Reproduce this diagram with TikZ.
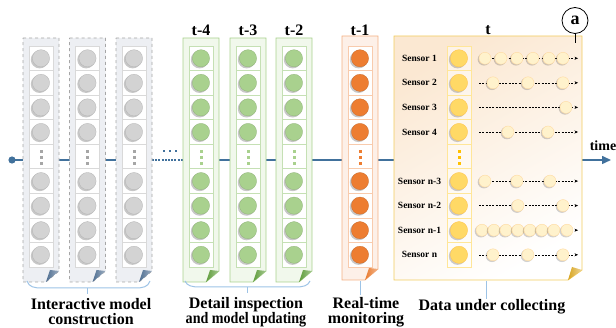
\documentclass[tikz,border=0pt]{standalone}
\usepackage{fontspec}
\setmainfont{Liberation Serif}
\usetikzlibrary{arrows.meta}
\definecolor{tlc}{HTML}{41719C}
\definecolor{gbord}{HTML}{A6A6A6}
\definecolor{gfill}{HTML}{EDEFF3}
\definecolor{gcell}{HTML}{D9D9D9}
\definecolor{gcirc}{HTML}{D3D3D3}
\definecolor{gdot}{HTML}{A6A6A6}
\definecolor{gfold}{HTML}{4F6E91}
\definecolor{gnbord}{HTML}{A9D18E}
\definecolor{gnfill}{HTML}{F1F8EC}
\definecolor{gncell}{HTML}{C5E0B4}
\definecolor{gncirc}{HTML}{A9D18E}
\definecolor{gndot}{HTML}{A9D18E}
\definecolor{gnfold}{HTML}{5E9C3A}
\definecolor{obord}{HTML}{F4B183}
\definecolor{ofill}{HTML}{FDF0E8}
\definecolor{ocell}{HTML}{F8CBAD}
\definecolor{ocirc}{HTML}{ED7D31}
\definecolor{odot}{HTML}{ED7D31}
\definecolor{ofold}{HTML}{E97A2E}
\definecolor{ybord}{HTML}{F2CC5E}
\definecolor{yfill}{HTML}{FBE8D2}
\definecolor{ycell}{HTML}{FFE699}
\definecolor{ycirc}{HTML}{FFD966}
\definecolor{yfold}{HTML}{D9A520}
\definecolor{ysmall}{HTML}{FFF2CC}
\definecolor{ydot}{HTML}{FFC000}
\definecolor{brc}{HTML}{9DC3E6}
\newcommand\mkcolumn[5]{%
  \filldraw[draw=#4bord, fill=#4fill, line width=0.8, #5]
    (#1,#2) -- (#1+36,#2) -- (#1+36,#3-11) -- (#1+23,#3) -- (#1,#3) -- cycle;
  \shade[left color=#4fold, right color=#4fold!55!white]
    (#1+23,#3) -- (#1+36,#3-11) -- (#1+27,#3-12) -- cycle;
  \foreach \i in {0,...,8} {
    \draw[draw=#4cell, fill=white, line width=0.6]
      (#1+6,46+\i*24.56) rectangle (#1+30,46+\i*24.56+24.56);
  }
  \foreach \i in {0,1,2,3,5,6,7,8} {
    \fill[black, opacity=0.22] (#1+16.6,46+\i*24.56+13.6) circle (8.8);
    \filldraw[fill=#4circ, draw=#4circ!85!black, line width=0.3]
      (#1+18,46+\i*24.56+12.28) circle (8.6);
  }
  \foreach \d in {-5,1,7} {
    \fill[#4dot] (#1+16.5,156.5+\d-1.5) rectangle (#1+19.5,156.5+\d+1.5);
  }
}
\begin{document}
\begin{tikzpicture}[x=1pt,y=-1pt,
  tl/.style={draw=tlc, line width=1.5},
  lab/.style={font=\bfseries\fontsize{16}{15}\selectfont, align=center, inner sep=0},
  tlab/.style={font=\bfseries\fontsize{16}{16}\selectfont, inner sep=0},
  slab/.style={font=\bfseries\fontsize{9.5}{10}\selectfont, inner sep=0},
  brace/.style={draw=brc, line width=1},
  dline/.style={draw=black, line width=0.5, dash pattern=on 2pt off 1.3pt,
    -{Stealth[length=3.5pt,width=3pt]}},
  smallc/.style={fill=ysmall, draw=ysmall!80!orange, line width=0.4}]
\useasboundingbox (0,0) rectangle (616,328);

% timeline
\coordinate (tstart) at (12,160);
\coordinate (dotA) at (152,160);
\coordinate (dotB) at (183,160);
\coordinate (tend) at (611,160);
\draw[tl] (tstart) -- (dotA);
\draw[tl, dash pattern=on 2pt off 1.2pt] (dotA) -- (dotB);
\draw[tl, -{Triangle[length=9pt,width=8pt]}] (dotB) -- (tend);
\fill[tlc] (tstart) circle (3.6);
\foreach \x in {164,170,176} \fill[tlc] (\x-1.4,149.6) rectangle (\x+1.4,152.4);
\node[font=\bfseries\fontsize{14}{14}\selectfont, inner sep=0] (timelab) at (603,146) {time};

% gray columns
\mkcolumn{23}{38}{282}{g}{dashed}
\mkcolumn{69.5}{38}{282}{g}{dashed}
\mkcolumn{116}{38}{282}{g}{dashed}
% green columns
\mkcolumn{183}{38}{282}{gn}{solid}
\mkcolumn{230}{38}{282}{gn}{solid}
\mkcolumn{276}{38}{282}{gn}{solid}
% orange column
\mkcolumn{342}{36}{280}{o}{solid}

% labels above
\node[tlab] (l4) at (201,30) {t-4};
\node[tlab] (l3) at (248,30) {t-3};
\node[tlab] (l2) at (294,30) {t-2};
\node[tlab] (l1) at (360,30) {t-1};
\node[tlab] (l0) at (488,30) {t};

% yellow panel
\shade[top color=yfill, bottom color=white, shading angle=30]
  (394,36) -- (582,36) -- (582,270) -- (568,280) -- (394,280) -- cycle;
\draw[draw=ybord, line width=0.9]
  (394,36) -- (582,36) -- (582,270) -- (568,280) -- (394,280) -- cycle;
\shade[left color=yfold, right color=yfold!45!white]
  (568,280) -- (582,270) -- (572,267) -- cycle;
\foreach \i in {0,...,8} {
  \draw[draw=ycell, fill=white, fill opacity=0.5, line width=0.6]
    (447,46+\i*24.56) rectangle (471,46+\i*24.56+24.56);
}
\foreach \i in {0,1,2,3,5,6,7,8} {
  \fill[black, opacity=0.2] (457.6,46+\i*24.56+13.6) circle (8.8);
  \filldraw[fill=ycirc, draw=ycirc!80!orange, line width=0.4]
    (459,46+\i*24.56+12.28) circle (8.6);
}
\foreach \d in {-5,1,7} {
  \fill[ydot] (457.5,156.5+\d-1.5) rectangle (460.5,156.5+\d+1.5);
}

% sensor rows
\foreach \yy/\lab/\xs [count=\k] in {
  58.3/Sensor 1/{485,501,517,533,549,563},
  82.8/Sensor 2/{493,528,563},
  107.4/Sensor 3/{566},
  132.0/Sensor 4/{508,548},
  181.1/Sensor n-3/{485,517,550},
  205.6/Sensor n-2/{518,563},
  230.2/Sensor n-1/{482,494,506,518,530,542,554,567},
  254.8/Sensor n/{493,528,563}} {
  \node[slab] (s\k) at (419.5,\yy) {\lab};
  \coordinate (ra\k) at (479,\yy);
  \coordinate (rb\k) at (578,\yy);
  \draw[dline] (ra\k) -- (rb\k);
  \foreach \cx in \xs {
    \fill[black, opacity=0.18] (\cx-1,\yy+1) circle (6.3);
    \filldraw[smallc] (\cx,\yy) circle (6);
  }
}

% circled a
\node[draw=black, line width=0.8, fill=white, circle, minimum size=26, inner sep=0,
  font=\bfseries\fontsize{18}{18}\selectfont] (amark) at (575,20.5) {a};
\coordinate (apin) at (575,43.5);
\draw[line width=0.7] (amark.south) -- (apin);

% braces and ticks
\draw[brace] (27,281) .. controls (29,287) and (34,288) .. (42,288) -- (135,288)
  .. controls (143,288) and (148,287) .. (150,281);
\coordinate (gbt) at (87,288);
\coordinate (gbb) at (87,294);
\draw[brace] (gbt) -- (gbb);
\draw[brace] (185,281) .. controls (187,286) and (192,287) .. (200,287) -- (295,287)
  .. controls (303,287) and (308,286) .. (310,281);
\coordinate (nbt) at (247,287);
\coordinate (nbb) at (247,293);
\draw[brace] (nbt) -- (nbb);
\coordinate (obt) at (360,281);
\coordinate (obb) at (360,295);
\draw[brace] (obt) -- (obb);
\coordinate (ybt) at (486,281);
\coordinate (ybb) at (486,299);
\draw[brace] (ybt) -- (ybb);

% bottom labels
\node[lab] (lg) at (91,312) {Interactive model\\construction};
\node[lab] (lgn) at (246,312) {Detail inspection\\\scalebox{0.88}[1]{and model updating}};
\node[lab] (lo) at (366,312) {Real-time\\monitoring};
\node[lab] (ly) at (492,307) {Data under collecting};
\end{tikzpicture}
\end{document}
